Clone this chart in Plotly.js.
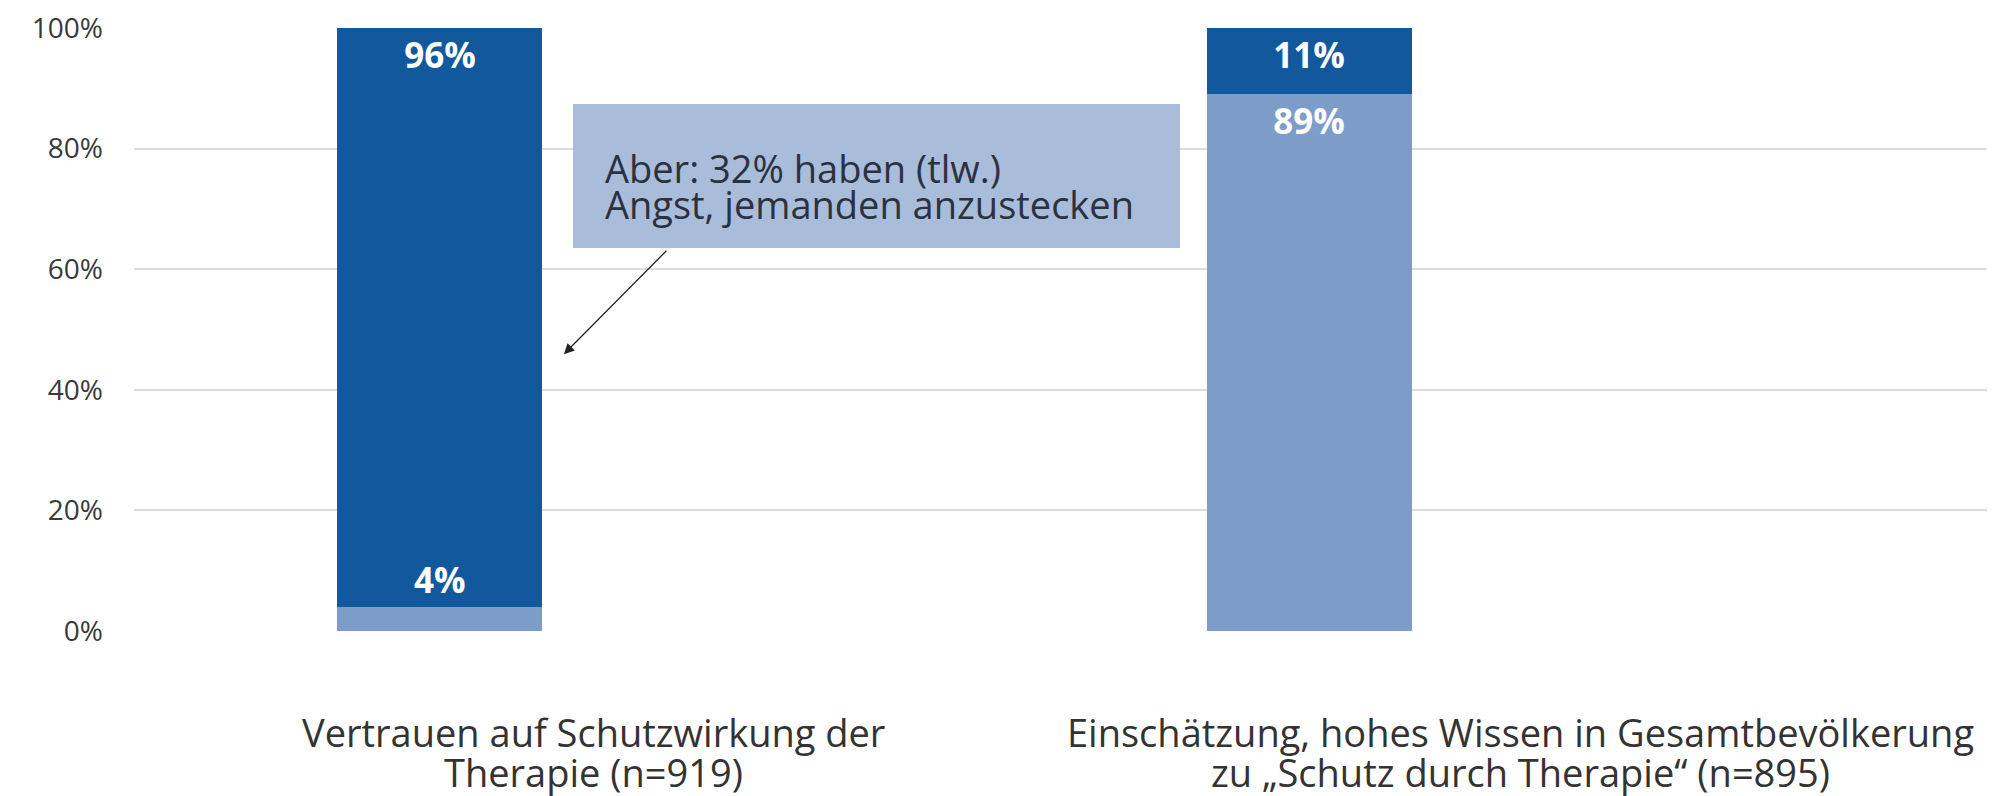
<!DOCTYPE html>
<html>
<head>
<meta charset="utf-8">
<script src="https://cdn.plot.ly/plotly-3.0.1.min.js"></script>
<style>html,body{margin:0;padding:0;background:#fff;}#chart{width:1995px;height:796px;}</style>
</head>
<body>
<div id="chart"></div>
<script>
// Data
const categories = ["Vertrauen", "Einschätzung"];
const categoryLabelLines = [
  ["Vertrauen auf Schutzwirkung der", "Therapie (n=919)"],
  ["Einschätzung, hohes Wissen in Gesamtbevölkerung", "zu „Schutz durch Therapie“ (n=895)"]
];
const lightValues = [4, 89];
const darkValues = [96, 11];
const yTickValues = [0, 20, 40, 60, 80, 100];
const yTickLabels = ["0%", "20%", "40%", "60%", "80%", "100%"];
const calloutLines = ["Aber: 32% haben (tlw.)", "Angst, jemanden anzustecken"];

const darkBlue = "#11589c";
const lightBlue = "#7d9cc8";
const boxBlue = "#a9bcda";
const labelFont = {family: "Open Sans", size: 35, color: "#ffffff", weight: "bold"};

const traces = [
  {
    type: "bar", x: categories, y: lightValues, name: "light",
    marker: {color: lightBlue},
    width: 0.236,
    text: lightValues.map(v => v + "%"),
    textposition: ["none", "inside"],
    insidetextanchor: "end",
    textfont: labelFont,
    hoverinfo: "none"
  },
  {
    type: "bar", x: categories, y: darkValues, name: "dark",
    marker: {color: darkBlue},
    width: 0.236,
    text: darkValues.map(v => v + "%"),
    textposition: "inside",
    insidetextanchor: "end",
    textfont: labelFont,
    hoverinfo: "none"
  }
];

const annotations = [
  // 4% label above the small light segment
  {
    x: categories[0], y: lightValues[0], xref: "x", yref: "y",
    text: "<b>" + lightValues[0] + "%</b>", showarrow: false,
    yanchor: "middle", yshift: 27,
    font: {family: "Open Sans", size: 35, color: "#ffffff"}
  },
  // arrow
  {
    x: 0.232, y: 0.459, xref: "paper", yref: "paper",
    ax: 104, ay: -105, text: "", showarrow: true,
    arrowhead: 2, arrowsize: 1.6, arrowwidth: 1.3, arrowcolor: "#222222", standoff: 0
  }
];

// category labels, one annotation per line for tight leading
const catCentersX = [0.248, 0.748];
const catLineY = [-0.1668, -0.2338];
categoryLabelLines.forEach((lines, i) => {
  lines.forEach((line, j) => {
    annotations.push({
      x: catCentersX[i], y: catLineY[j], xref: "paper", yref: "paper",
      text: line, showarrow: false, xanchor: "center", yanchor: "middle",
      font: {family: "Open Sans", size: 38, color: "#333333"}
    });
  });
});

// callout text lines
const calloutLineY = [0.7678, 0.7088];
calloutLines.forEach((line, j) => {
  annotations.push({
    x: 0.253, y: calloutLineY[j], xref: "paper", yref: "paper",
    text: line, showarrow: false, xanchor: "left", yanchor: "middle", align: "left",
    font: {family: "Open Sans", size: 38, color: "#2a3242"}
  });
});

const shapes = [
  {
    type: "rect", xref: "paper", yref: "paper",
    x0: 0.2369, x1: 0.5645, y0: 0.635, y1: 0.874,
    fillcolor: boxBlue, line: {width: 0}, layer: "above"
  }
];

const layout = {
  width: 1995, height: 796,
  margin: {l: 134, r: 8, t: 28, b: 165},
  paper_bgcolor: "#ffffff", plot_bgcolor: "#ffffff",
  barmode: "stack",
  showlegend: false,
  xaxis: {
    type: "category", range: [-0.352, 1.78],
    showticklabels: false, showgrid: false, zeroline: false, showline: false, ticks: ""
  },
  yaxis: {
    range: [0, 100], tickvals: yTickValues, ticktext: yTickLabels,
    showgrid: true, gridcolor: "#dcdcdc", gridwidth: 2,
    zeroline: false, showline: false, ticks: "",
    ticklabelstandoff: 30,
    tickfont: {family: "Open Sans", size: 28, color: "#3a3a3a"}
  },
  annotations: annotations,
  shapes: shapes
};

Plotly.newPlot("chart", traces, layout, {displayModeBar: false, staticPlot: true});
</script>
</body>
</html>
